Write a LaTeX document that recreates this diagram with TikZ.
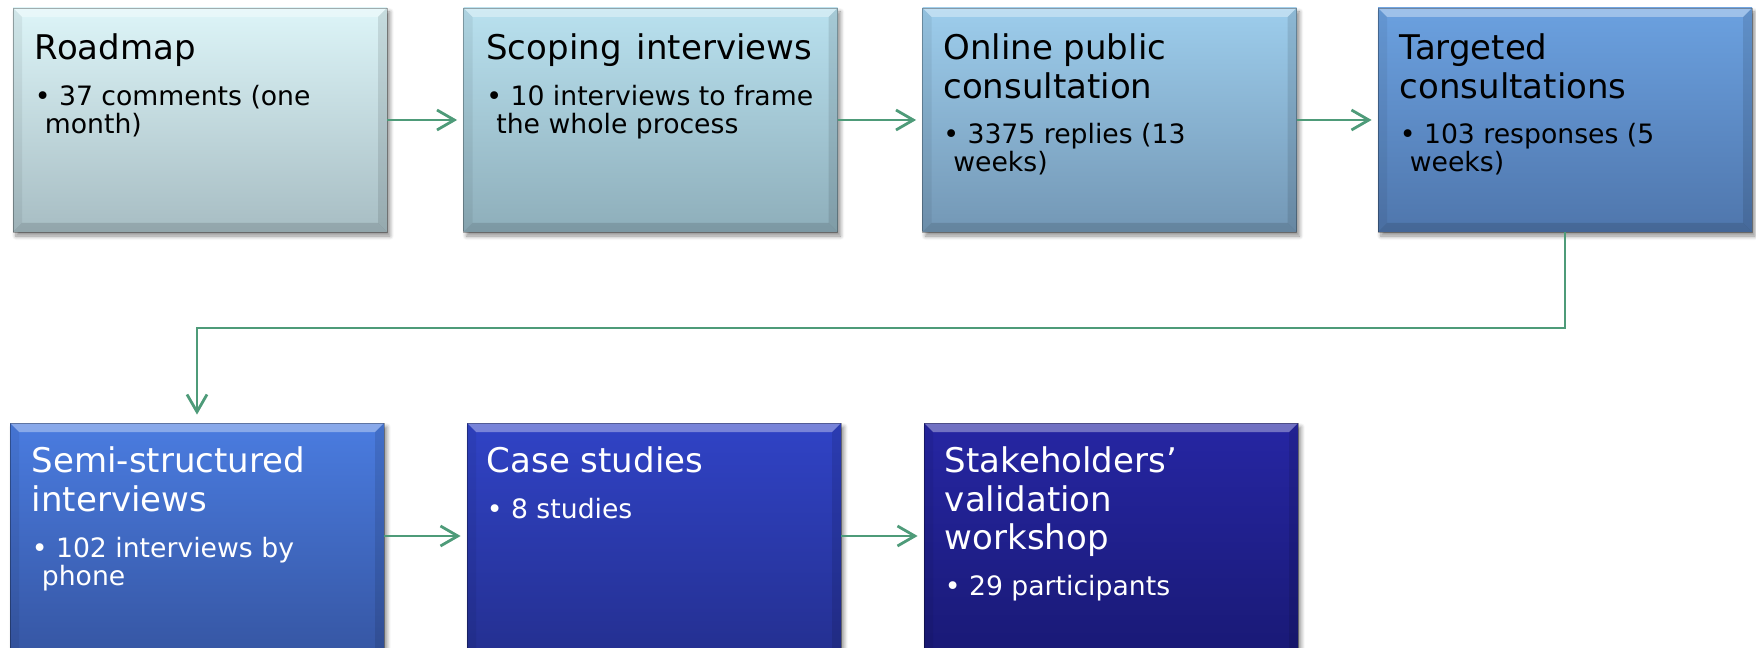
\documentclass[tikz,border=0pt]{standalone}
\usepackage{fontspec}
\setmainfont{DejaVu Sans}
\usetikzlibrary{arrows.meta,shadows.blur,calc}
\definecolor{conncol}{HTML}{4E9B79}
\definecolor{c1t}{HTML}{DDF5F8}\definecolor{c1b}{HTML}{A7BDC3}
\definecolor{c2t}{HTML}{B9E1EF}\definecolor{c2b}{HTML}{8EAEBA}
\definecolor{c3t}{HTML}{9DCDEC}\definecolor{c3b}{HTML}{7397B5}
\definecolor{c4t}{HTML}{6BA1E0}\definecolor{c4b}{HTML}{4F76AC}
\definecolor{c5t}{HTML}{4A7CE0}\definecolor{c5b}{HTML}{3A5CAF}
\definecolor{c6t}{HTML}{3043C6}\definecolor{c6b}{HTML}{27339B}
\definecolor{c7t}{HTML}{2626A3}\definecolor{c7b}{HTML}{1B1B7E}
\tikzset{
  stagebox/.style={rectangle, inner sep=0pt,
    minimum width=374*0.75pt, minimum height=224*0.75pt,
    draw=black, draw opacity=0.3, line width=0.6pt,
    blur shadow={shadow xshift=2.2pt, shadow yshift=-3pt,
      shadow blur radius=3pt, shadow opacity=45, shadow blur steps=6},
    path picture={
      \fill[white, opacity=0.35] (path picture bounding box.north west) -- (path picture bounding box.north east)
        -- ([shift={(-9,9)}]path picture bounding box.north east) -- ([shift={(9,9)}]path picture bounding box.north west) -- cycle;
      \fill[black, opacity=0.12] (path picture bounding box.south west) -- (path picture bounding box.south east)
        -- ([shift={(-9,-9)}]path picture bounding box.south east) -- ([shift={(9,-9)}]path picture bounding box.south west) -- cycle;
      \fill[black, opacity=0.06] (path picture bounding box.north west) -- ([shift={(9,9)}]path picture bounding box.north west)
        -- ([shift={(9,-9)}]path picture bounding box.south west) -- (path picture bounding box.south west) -- cycle;
      \fill[black, opacity=0.10] (path picture bounding box.north east) -- ([shift={(-9,9)}]path picture bounding box.north east)
        -- ([shift={(-9,-9)}]path picture bounding box.south east) -- (path picture bounding box.south east) -- cycle;
    }},
  lowbox/.style={minimum height=240*0.75pt},
  ttl/.style={inner sep=0pt, anchor=base west, font=\fontsize{25.5}{28.9}\selectfont},
  blt/.style={inner sep=0pt, anchor=base west, font=\fontsize{20}{21}\selectfont},
  conn/.style={draw=conncol, line width=2.1pt, -{Straight Barb[length=13pt,width=15pt,line width=2.1pt]}, shorten >=4.5pt},
}
\newcommand{\ttlbox}[1]{\parbox[t]{330pt}{\raggedright #1}}
\begin{document}
\begin{tikzpicture}[x=0.75pt,y=-0.75pt]
\useasboundingbox (0,0) rectangle (1756,648);
% row 1
\node[stagebox, top color=c1t, bottom color=c1b] (b1) at (200,120) {};
\node[stagebox, top color=c2t, bottom color=c2b] (b2) at (650.5,120) {};
\node[stagebox, top color=c3t, bottom color=c3b] (b3) at (1109.5,120) {};
\node[stagebox, top color=c4t, bottom color=c4b] (b4) at (1565,120) {};
% row 2 (runs past the lower edge)
\node[stagebox, lowbox, top color=c5t, bottom color=c5b!92!black] (b5) at (197,543) {};
\node[stagebox, lowbox, top color=c6t, bottom color=c6b!92!black] (b6) at (654,543) {};
\node[stagebox, lowbox, top color=c7t, bottom color=c7b!92!black] (b7) at (1111,543) {};

% texts row 1
\node[ttl] (t1) at ($(b1.north west)+(22,52)$) {\ttlbox{Roadmap}};
\node[blt] (u1) at ($(b1.north west)+(22,98)$) {\ttlbox{• 37 comments (one\\\hspace*{7.5pt}month)}};
\node[ttl] (t2) at ($(b2.north west)+(23,52)$) {\ttlbox{Scoping\hspace{0.45em}interviews}};
\node[blt] (u2) at ($(b2.north west)+(23,98)$) {\ttlbox{• 10 interviews to frame\\\hspace*{7.5pt}the whole process}};
\node[ttl] (t3) at ($(b3.north west)+(21,52)$) {\ttlbox{Online public\\consultation}};
\node[blt] (u3) at ($(b3.north west)+(21,136)$) {\ttlbox{• 3375 replies (13\\\hspace*{7.5pt}weeks)}};
\node[ttl] (t4) at ($(b4.north west)+(22,52)$) {\ttlbox{Targeted\\consultations}};
\node[blt] (u4) at ($(b4.north west)+(22,136)$) {\ttlbox{• 103 responses (5\\\hspace*{7.5pt}weeks)}};

% texts row 2
\node[ttl, text=white] (t5) at ($(b5.north west)+(22,50)$) {\ttlbox{Semi-structured\\interviews}};
\node[blt, text=white] (u5) at ($(b5.north west)+(22,135)$) {\ttlbox{• 102 interviews by\\\hspace*{7.5pt}phone}};
\node[ttl, text=white] (t6) at ($(b6.north west)+(20,50)$) {\ttlbox{Case studies}};
\node[blt, text=white] (u6) at ($(b6.north west)+(20,96)$) {\ttlbox{• 8 studies}};
\node[ttl, text=white] (t7) at ($(b7.north west)+(21,50)$) {\ttlbox{Stakeholders’\\validation\\workshop}};
\node[blt, text=white] (u7) at ($(b7.north west)+(21,173)$) {\ttlbox{• 29 participants}};

% connectors
\draw[conn] (b1) -- (b2);
\draw[conn] (b2) -- (b3);
\draw[conn] (b3) -- (b4);
\coordinate (bend) at (0,328);
\draw[conn, shorten >=6pt] (b4.south) -- (b4.south |- bend) -| (b5.north);
\coordinate (row2) at (0,536);
\draw[conn] (b5.east |- row2) -- (b6.west |- row2);
\draw[conn] (b6.east |- row2) -- (b7.west |- row2);
\end{tikzpicture}
\end{document}
